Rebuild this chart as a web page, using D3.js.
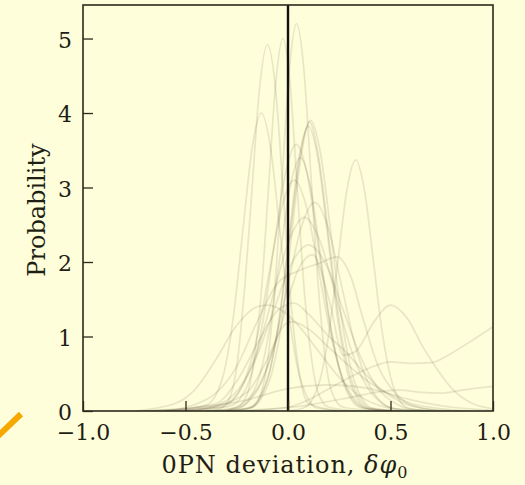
<!DOCTYPE html>
<html>
<head>
<meta charset="utf-8">
<script src="https://cdn.jsdelivr.net/npm/d3@7"></script>
<style>
  html, body { margin: 0; padding: 0; background: #fefedb; }
  text { font-family: "DejaVu Serif", serif; fill: #1e1e14; }
</style>
</head>
<body>
<div id="main"></div>
<script>
//size of the page
const width = 525;
const height = 485;
const margin = {top: 5, right: 32, bottom: 74, left: 83};

//tick values
const xTicks = [-1.0, -0.5, 0.0, 0.5, 1.0];
const yTicks = [0, 1, 2, 3, 4, 5];

//density curves, [deviation, probability]
const curveA = [[-0.5,0],[-0.35,0.02],[-0.3,0.1],[-0.25,0.6],[-0.21,1.7],[-0.175,3.0],[-0.14,4.3],[-0.1,4.92],[-0.06,4.3],[-0.025,3.0],[0.01,1.6],[0.05,0.6],[0.1,0.1],[0.25,0]];
const curveB = [[-0.4,0],[-0.25,0.05],[-0.2,0.22],[-0.165,0.7],[-0.13,1.6],[-0.095,3.0],[-0.06,4.4],[-0.025,5.0],[0.01,4.4],[0.045,3.0],[0.08,1.6],[0.115,0.7],[0.15,0.22],[0.2,0.05],[0.35,0]];
const curveC = [[-0.35,0],[-0.18,0.05],[-0.133,0.23],[-0.098,0.7],[-0.063,1.7],[-0.028,3.16],[0.007,4.6],[0.042,5.2],[0.077,4.6],[0.112,3.16],[0.147,1.7],[0.182,0.7],[0.217,0.23],[0.27,0.05],[0.45,0]];
const curveD = [[-0.7,0],[-0.5,0.03],[-0.4,0.08],[-0.355,0.2],[-0.31,0.54],[-0.265,1.3],[-0.22,2.43],[-0.175,3.53],[-0.13,4.0],[-0.085,3.53],[-0.04,2.43],[0.005,1.3],[0.05,0.54],[0.095,0.18],[0.14,0.04],[0.3,0]];
const curveE = [[-0.3,0],[-0.19,0.04],[-0.14,0.17],[-0.09,0.53],[-0.04,1.27],[0.01,2.37],[0.06,3.44],[0.11,3.9],[0.16,3.44],[0.21,2.37],[0.26,1.27],[0.31,0.53],[0.36,0.17],[0.41,0.04],[0.55,0]];
const curveF = [[-0.3,0],[-0.185,0.04],[-0.137,0.17],[-0.09,0.52],[-0.043,1.24],[0.005,2.32],[0.052,3.37],[0.1,3.82],[0.147,3.37],[0.195,2.32],[0.242,1.24],[0.29,0.52],[0.337,0.17],[0.385,0.04],[0.5,0]];
const curveG = [[-0.3,0],[-0.18,0.04],[-0.13,0.17],[-0.08,0.5],[-0.03,1.2],[0.015,2.3],[0.06,3.35],[0.105,3.88],[0.15,3.4],[0.2,2.3],[0.25,1.2],[0.3,0.5],[0.35,0.16],[0.4,0.04],[0.55,0]];
const curveH = [[0,0],[0.075,0.04],[0.1175,0.15],[0.16,0.46],[0.2025,1.1],[0.245,2.05],[0.2875,2.97],[0.33,3.37],[0.3725,2.97],[0.415,2.05],[0.4575,1.1],[0.5,0.46],[0.5425,0.15],[0.585,0.04],[0.7,0]];
const curveI = [[-0.55,0],[-0.4,0.03],[-0.29,0.06],[-0.235,0.16],[-0.18,0.48],[-0.125,1.16],[-0.07,2.17],[-0.015,3.16],[0.04,3.58],[0.095,3.16],[0.15,2.17],[0.205,1.16],[0.26,0.48],[0.315,0.16],[0.37,0.04],[0.5,0]];
const curveJ = [[-0.35,0],[-0.24,0.04],[-0.19,0.15],[-0.14,0.46],[-0.09,1.1],[-0.04,2.06],[0.01,3.0],[0.06,3.4],[0.11,3.0],[0.16,2.06],[0.21,1.1],[0.26,0.46],[0.31,0.15],[0.36,0.04],[0.5,0]];
const curveK = [[-0.6,0],[-0.33,0.05],[-0.27,0.14],[-0.21,0.42],[-0.15,1.0],[-0.09,1.88],[-0.03,2.74],[0.03,3.1],[0.09,2.74],[0.15,1.88],[0.21,1.0],[0.27,0.42],[0.33,0.14],[0.39,0.03],[0.55,0]];
const curveL = [[-0.4,0],[-0.26,0.03],[-0.195,0.12],[-0.13,0.38],[-0.065,0.91],[0,1.7],[0.065,2.47],[0.13,2.8],[0.195,2.47],[0.26,1.7],[0.325,0.91],[0.39,0.38],[0.455,0.12],[0.52,0.03],[0.7,0]];
const curveM = [[-0.7,0],[-0.45,0.05],[-0.295,0.11],[-0.22,0.35],[-0.145,0.85],[-0.07,1.58],[0.005,2.29],[0.08,2.6],[0.155,2.29],[0.23,1.58],[0.305,0.85],[0.38,0.35],[0.455,0.11],[0.53,0.03],[0.7,0]];
const curveN = [[-0.75,0],[-0.41,0.04],[-0.325,0.1],[-0.24,0.3],[-0.155,0.72],[-0.07,1.35],[0.015,1.97],[0.1,2.23],[0.185,1.97],[0.27,1.35],[0.355,0.72],[0.44,0.3],[0.525,0.1],[0.61,0.02],[0.8,0]];
const curveO = [[-0.6,0],[-0.4,0.15],[-0.25,0.6],[-0.15,1.2],[-0.05,1.72],[0.05,1.88],[0.15,1.98],[0.24,2.07],[0.3,1.85],[0.37,1.2],[0.44,0.6],[0.52,0.25],[0.6,0.08],[0.75,0]];
const curveP = [[-0.3,0],[-0.15,0.3],[-0.05,1.0],[0.05,1.9],[0.12,2.1],[0.2,1.5],[0.27,0.75],[0.33,0.8],[0.42,1.2],[0.5,1.42],[0.58,1.25],[0.66,0.85],[0.73,0.55],[0.8,0.3],[0.9,0.1],[1.0,0.03]];
const curveQ = [[-0.75,0],[-0.55,0.1],[-0.45,0.3],[-0.35,0.7],[-0.25,1.15],[-0.15,1.4],[-0.1,1.42],[-0.03,1.35],[0.05,1.15],[0.15,0.8],[0.25,0.45],[0.35,0.2],[0.45,0.07],[0.6,0]];
const curveR = [[-0.6,0],[-0.35,0.1],[-0.25,0.4],[-0.15,0.9],[-0.05,1.35],[0.03,1.45],[0.1,1.3],[0.2,1.0],[0.28,0.8],[0.36,0.55],[0.45,0.3],[0.55,0.12],[0.7,0.02],[0.85,0]];
const curveS = [[-0.45,0],[-0.2,0.25],[-0.1,0.7],[-0.02,1.15],[0.02,1.2],[0.1,1.1],[0.2,0.85],[0.3,0.6],[0.4,0.38],[0.5,0.22],[0.6,0.1],[0.75,0.03],[0.9,0]];
const curveT = [[-0.3,0],[0,0.05],[0.1,0.15],[0.2,0.3],[0.3,0.45],[0.4,0.58],[0.5,0.66],[0.6,0.64],[0.7,0.65],[0.8,0.78],[0.9,0.95],[1.0,1.13]];
const curveU = [[-0.2,0],[0.1,0.08],[0.3,0.18],[0.45,0.26],[0.55,0.28],[0.65,0.25],[0.75,0.24],[0.85,0.28],[1.0,0.33]];
const curveV = [[-0.5,0],[-0.2,0.15],[0,0.3],[0.2,0.35],[0.4,0.3],[0.6,0.15],[0.8,0.05],[1.0,0.01]];

const curves = [curveA, curveB, curveC, curveD, curveE, curveF, curveG, curveH, curveI, curveJ,
                curveK, curveL, curveM, curveN, curveO, curveP, curveQ, curveR, curveS, curveT,
                curveU, curveV];

//svg container
const svg = d3.select('#main')
              .append('svg')
              .attr('width', width)
              .attr('height', height);

//scales
const xScale = d3.scaleLinear().domain([-1, 1]).range([margin.left, width - margin.right]);
const yScale = d3.scaleLinear().domain([0, 5.45]).range([height - margin.bottom, margin.top]);

//orange stroke peeking in at bottom left
svg.append('line')
   .attr('x1', -4).attr('y1', 438)
   .attr('x2', 21).attr('y2', 414)
   .attr('stroke', '#f5a900')
   .attr('stroke-width', 6);

//clip curves to the plot area
svg.append('clipPath').attr('id', 'clip')
   .append('rect')
   .attr('x', margin.left).attr('y', margin.top)
   .attr('width', width - margin.left - margin.right)
   .attr('height', height - margin.top - margin.bottom);

const line = d3.line()
               .x(d => xScale(d[0]))
               .y(d => yScale(d[1]))
               .curve(d3.curveMonotoneX);

svg.append('g').attr('clip-path', 'url(#clip)')
   .selectAll('.curve').data(curves).enter()
   .append('path').attr('class', 'curve')
   .attr('d', line)
   .attr('fill', 'none')
   .attr('stroke', '#463c1e')
   .attr('stroke-opacity', 0.12)
   .attr('stroke-width', 1.7);

//zero line
svg.append('line')
   .attr('x1', xScale(0)).attr('x2', xScale(0))
   .attr('y1', margin.top).attr('y2', height - margin.bottom)
   .attr('stroke', '#111')
   .attr('stroke-width', 2.4);

//axes, ticks point inwards
const xAxis = d3.axisBottom(xScale).tickValues(xTicks)
                .tickFormat(d3.format('.1f')).tickSize(-10).tickPadding(13);
const yAxis = d3.axisLeft(yScale).tickValues(yTicks)
                .tickFormat(d3.format('d')).tickSize(-10).tickPadding(11);

const gx = svg.append('g').attr('id', 'x-axis')
   .attr('transform', 'translate(0,' + (height - margin.bottom) + ')')
   .call(xAxis);
const gy = svg.append('g').attr('id', 'y-axis')
   .attr('transform', 'translate(' + margin.left + ',0)')
   .call(yAxis);

[gx, gy].forEach(g => {
  g.select('.domain').remove();
  g.selectAll('line').attr('stroke', '#2a2a1c').attr('stroke-width', 1.3);
  g.selectAll('text').style('font-size', '22px').style('font-family', '"DejaVu Serif", serif').attr('fill', '#1e1e14');
});
gy.selectAll('text').attr('dy', '0.4em');

//frame
svg.append('rect')
   .attr('x', margin.left).attr('y', margin.top)
   .attr('width', width - margin.left - margin.right)
   .attr('height', height - margin.top - margin.bottom)
   .attr('fill', 'none')
   .attr('stroke', '#2a2a1c')
   .attr('stroke-width', 1.6);

//axis labels
const xl = svg.append('text')
   .attr('x', (margin.left + width - margin.right) / 2 - 3)
   .attr('y', 473)
   .attr('text-anchor', 'middle')
   .style('font-size', '24px')
   .style('letter-spacing', '1px');
xl.append('tspan').text('0PN deviation, ');
xl.append('tspan').style('font-style', 'italic').text('δφ');
xl.append('tspan').attr('dy', 5).style('font-size', '16px').text('0');

svg.append('text')
   .attr('transform', 'translate(45,' + ((margin.top + height - margin.bottom) / 2 + 2) + ') rotate(-90)')
   .attr('text-anchor', 'middle')
   .style('font-size', '24px')
   .text('Probability');
</script>
</body>
</html>
